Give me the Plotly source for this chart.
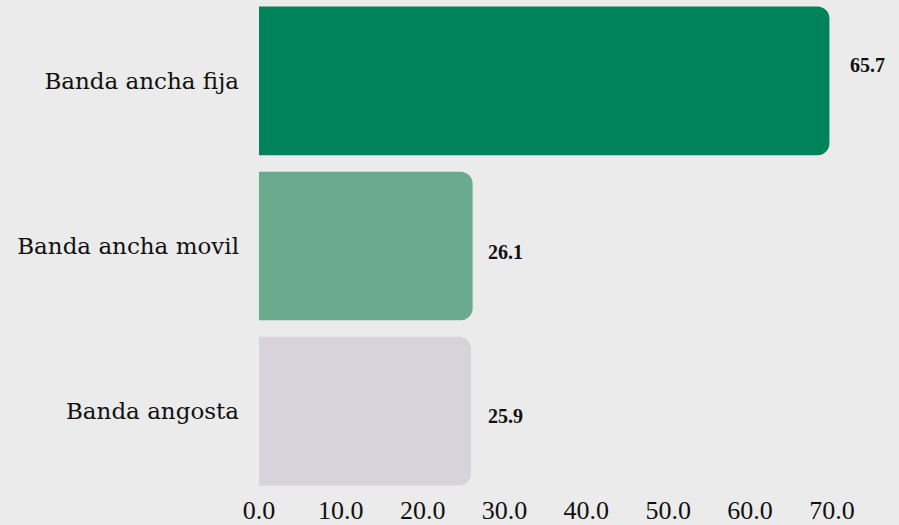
import plotly.graph_objects as go

categories = ["Banda ancha fija", "Banda ancha movil", "Banda angosta"]
bar_values = [69.7, 26.1, 25.9]
label_texts = ["65.7", "26.1", "25.9"]
colors = ["#00835a", "#6aab8f", "#d8d2da"]
tick_vals = [0, 10, 20, 30, 40, 50, 60, 70]
tick_text = ["0.0", "10.0", "20.0", "30.0", "40.0", "50.0", "60.0", "70.0"]

fig = go.Figure(go.Bar(
    x=bar_values, y=categories, orientation="h",
    marker=dict(color=colors, cornerradius=12, line=dict(width=0)),
    hoverinfo="skip",
))

label_shift_x = [19, 13, 15]
label_shift_y = [16, -6, -5]
for cat, v, t, sx, sy in zip(categories, bar_values, label_texts, label_shift_x, label_shift_y):
    fig.add_annotation(x=v, y=cat, text=f"<b>{t}</b>", showarrow=False,
                       xanchor="left", yanchor="middle", xshift=sx, yshift=sy,
                       font=dict(family="Liberation Serif", size=20, color="#111111"))

fig.update_layout(
    width=899, height=525,
    margin=dict(l=259, r=0, t=0, b=31),
    paper_bgcolor="#ebebeb", plot_bgcolor="#ebebeb",
    bargap=0.1, showlegend=False,
    xaxis=dict(range=[0, 78.2], tickvals=tick_vals, ticktext=tick_text,
               showgrid=False, zeroline=False, showline=False,
               tickfont=dict(family="Liberation Serif", size=26, color="#111111")),
    yaxis=dict(range=[2.49, -0.49], showgrid=False, zeroline=False, showline=False,
               ticklabelstandoff=19,
               tickfont=dict(family="DejaVu Serif", size=23, color="#111111")),
)
fig.write_html("out.html", config={"displayModeBar": False},
               post_script="document.body.style.margin='0';document.body.style.padding='0';document.body.style.overflow='hidden';")
